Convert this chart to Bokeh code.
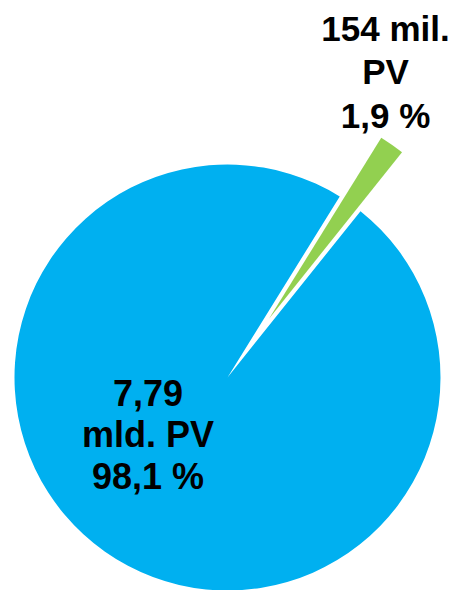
import math
from bokeh.plotting import figure
from bokeh.models import ColumnDataSource, Range1d
from bokeh.core.properties import value
from bokeh.embed import file_html
from bokeh.resources import INLINE

# data
categories = ["mld. PV", "mil. PV"]
shares = [98.1, 1.9]
label_lines_blue = ["7,79", "mld. PV", "98,1 %"]
label_lines_green = ["154 mil.", "PV", "1,9 %"]
colors = ["#00B0F0", "#92D050"]

# geometry (pixel-like data units, y up; data y = 590 - picture y)
W, H = 460, 590
cx, cy = 227, 213
r = 213
explode = 72
start_deg = 58.2  # start of the blue slice (math convention)

p = figure(width=W, height=H, output_backend="svg", toolbar_location=None,
           x_range=Range1d(0, W), y_range=Range1d(0, H), min_border=0)
p.axis.visible = False
p.grid.visible = False
p.outline_line_color = None
p.background_fill_color = "white"

total = sum(shares)
a0 = math.radians(start_deg)
starts, ends, xs, ys = [], [], [], []
acc = a0
for i, s in enumerate(shares):
    span = 2 * math.pi * s / total
    st, en = acc, acc + span
    acc = en
    mid = (st + en) / 2
    off = explode if i == 1 else 0
    starts.append(st)
    ends.append(en)
    xs.append(cx + off * math.cos(mid))
    ys.append(cy + off * math.sin(mid))

src = ColumnDataSource(dict(x=xs, y=ys, start=starts, end=ends, color=colors, cat=categories))
p.wedge(x="x", y="y", radius=r, start_angle="start", end_angle="end",
        fill_color="color", line_color=None, source=src)

font = value("Liberation Sans")
blue_base = [392, 433.5, 476]
green_base = [27.5, 71, 114.5]
p.text(x=[147.5] * 3, y=[590 - b for b in blue_base], text=label_lines_blue,
       text_font=font, text_font_style="bold", text_font_size="36px",
       text_align="center", text_baseline="alphabetic", text_color="black")
p.text(x=[385] * 3, y=[590 - b for b in green_base], text=label_lines_green,
       text_font=font, text_font_style="bold", text_font_size="35px",
       text_align="center", text_baseline="alphabetic", text_color="black")

open("out.html", "w").write(file_html(p, INLINE))
